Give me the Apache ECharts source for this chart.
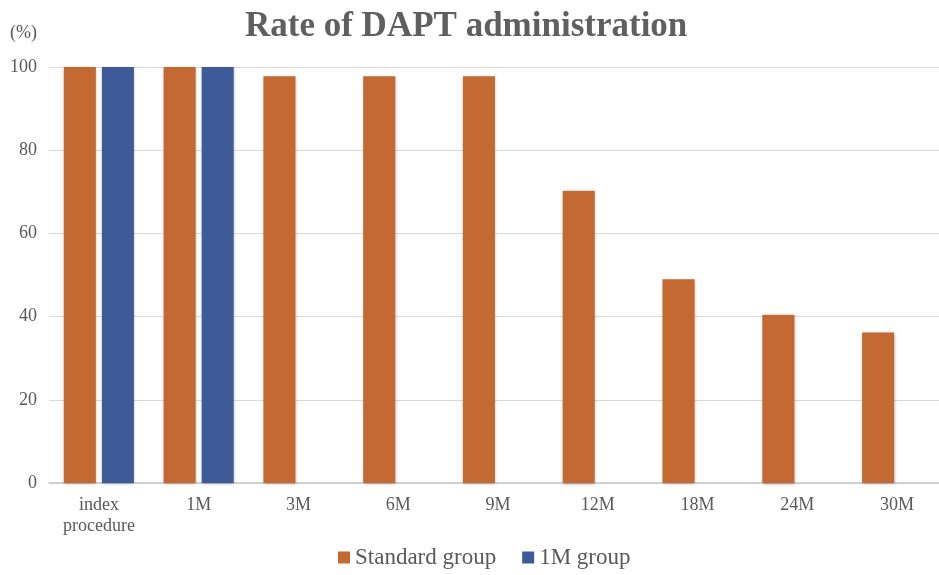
<!DOCTYPE html>
<html>
<head>
<meta charset="utf-8">
<script src="https://cdn.jsdelivr.net/npm/echarts@6/dist/echarts.min.js"></script>
<style>
  html, body { margin: 0; padding: 0; background: #fff; overflow: hidden; }
  #wrap { width: 939px; height: 575px; overflow: hidden; }
  #chart { width: 947px; height: 575px; }
</style>
</head>
<body>
<div id="wrap"><div id="chart"></div></div>
<script>
// Time points after the index procedure
const categories = ['index\nprocedure', '1M', '3M', '6M', '9M', '12M', '18M', '24M', '30M'];
// DAPT administration rate (%) per group
const standardGroup = [100, 100, 97.8, 97.8, 97.8, 70.2, 49.0, 40.4, 36.2];
const oneMonthGroup = [100, 100, null, null, null, null, null, null, null];
const yTicks = [0, 20, 40, 60, 80, 100];

const textColor = '#595959';
const fontFamily = '"Liberation Serif", "Times New Roman", serif';
const barShadow = { shadowBlur: 3, shadowColor: 'rgba(0,0,0,0.35)', shadowOffsetX: 0.5, shadowOffsetY: 0.5 };

const chart = echarts.init(document.getElementById('chart'));
chart.setOption({
  animation: false,
  title: {
    text: 'Rate of DAPT administration',
    left: 240,
    top: 4,
    textStyle: { fontFamily, fontSize: 35, fontWeight: 'bold', color: '#5f5f5f' }
  },
  legend: {
    top: 546,
    left: 338,
    padding: 0,
    itemWidth: 12,
    itemHeight: 12,
    itemGap: 26,
    icon: 'rect',
    textStyle: { fontFamily, fontSize: 23, color: textColor },
    data: ['Standard group', '1M group']
  },
  // the plot band is a little wider than the visible window on the right
  grid: { left: 49, right: 0, top: 67, bottom: 92 },
  xAxis: {
    type: 'category',
    data: categories,
    axisTick: { show: false },
    axisLine: { lineStyle: { color: '#c8c8c8', width: 1.5 } },
    axisLabel: { fontFamily, fontSize: 18, color: textColor, margin: 12, lineHeight: 21 }
  },
  yAxis: {
    type: 'value',
    min: yTicks[0],
    max: yTicks[yTicks.length - 1],
    interval: 20,
    name: '(%)',
    nameLocation: 'end',
    nameGap: 25,
    nameTextStyle: { fontFamily, fontSize: 18, color: textColor, align: 'right', padding: [0, 12, 0, 0] },
    axisLine: { show: false },
    axisTick: { show: false },
    axisLabel: { fontFamily, fontSize: 18, color: textColor, margin: 12 },
    splitLine: { lineStyle: { color: '#d9d9d9', width: 1 } }
  },
  series: [
    {
      name: 'Standard group',
      type: 'bar',
      data: standardGroup,
      barWidth: 32,
      barGap: '19%',
      itemStyle: Object.assign({ color: '#c46932' }, barShadow)
    },
    {
      name: '1M group',
      type: 'bar',
      data: oneMonthGroup,
      barWidth: 32,
      itemStyle: Object.assign({ color: '#3f5a98' }, barShadow)
    }
  ]
});
</script>
</body>
</html>
